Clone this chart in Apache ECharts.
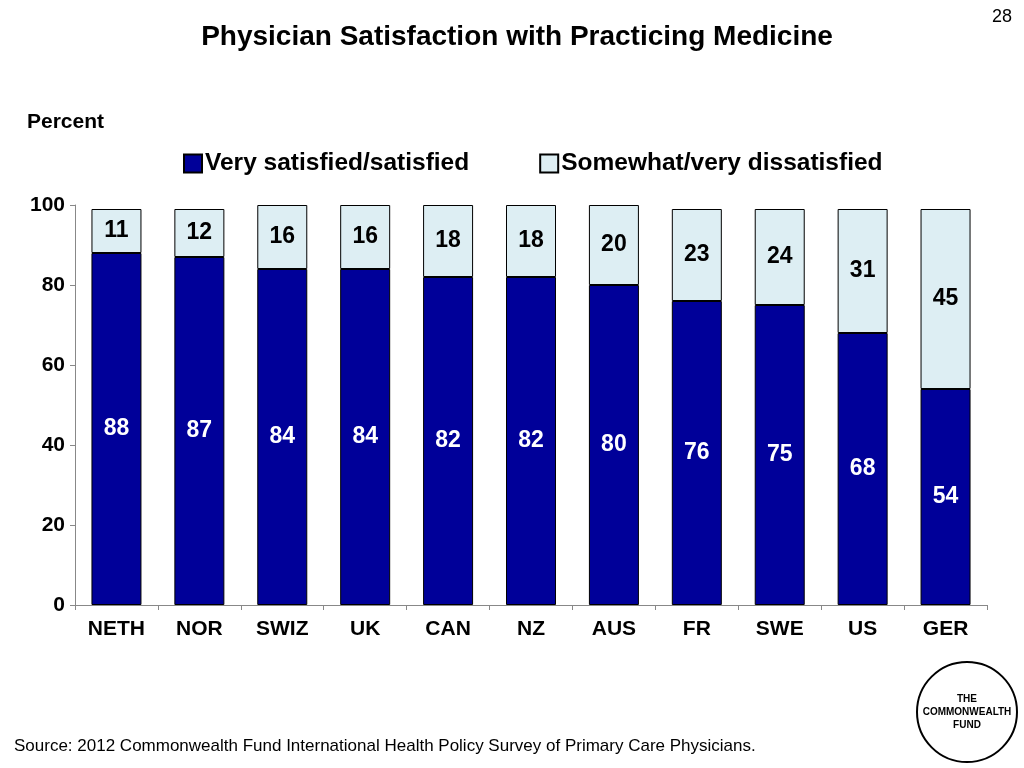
<!DOCTYPE html>
<html><head><meta charset="utf-8">
<script src="https://cdn.jsdelivr.net/npm/echarts@6/dist/echarts.min.js"></script>
<style>html,body{margin:0;padding:0;background:#fff}#c{width:1024px;height:768px}</style>
</head><body><div id="c"></div>
<script>
const categories=['NETH','NOR','SWIZ','UK','CAN','NZ','AUS','FR','SWE','US','GER'];
const satisfied=[88,87,84,84,82,82,80,76,75,68,54];
const dissatisfied=[11,12,16,16,18,18,20,23,24,31,45];
const yTicks=[0,20,40,60,80,100];
const F='Liberation Sans, Arial, sans-serif';
const chart=echarts.init(document.getElementById('c'));
chart.setOption({
  animation:false,
  title:{text:'Physician Satisfaction with Practicing Medicine',left:512,textAlign:'center',top:18,textStyle:{fontFamily:F,fontSize:28,fontWeight:'bold',color:'#000'}},
  legend:{top:146,left:178,itemGap:70,itemWidth:18,itemHeight:18,icon:'rect',textStyle:{fontFamily:F,fontSize:24.5,fontWeight:'bold',color:'#000',padding:[0,0,0,-2]},
    data:['Very satisfied/satisfied','Somewhat/very dissatisfied']},
  grid:{left:75,right:37,top:205,bottom:163},
  xAxis:{type:'category',data:categories,axisTick:{show:true,lineStyle:{color:'#888'}},axisLine:{lineStyle:{color:'#888'}},
    axisLabel:{fontFamily:F,fontSize:21,fontWeight:'bold',color:'#000',margin:14}},
  yAxis:{type:'value',min:0,max:100,interval:20,splitLine:{show:false},axisLine:{show:true,lineStyle:{color:'#888'}},axisTick:{show:true,lineStyle:{color:'#888'}},
    axisLabel:{fontFamily:F,fontSize:21,fontWeight:'bold',color:'#000',margin:10,formatter:v=>yTicks.includes(v)?String(v):''}},
  series:[
    {name:'Very satisfied/satisfied',type:'bar',stack:'a',data:satisfied,barWidth:50,
     itemStyle:{color:'#000099',borderColor:'#000',borderWidth:1},
     label:{show:true,position:'inside',fontFamily:F,fontSize:23,fontWeight:'bold',color:'#fff'}},
    {name:'Somewhat/very dissatisfied',type:'bar',stack:'a',data:dissatisfied,barWidth:50,
     itemStyle:{color:'#DDEEF3',borderColor:'#000',borderWidth:1},
     label:{show:true,position:'inside',fontFamily:F,fontSize:23,fontWeight:'bold',color:'#000'}}
  ],
  graphic:[
    {type:'text',left:27,top:112,style:{text:'Percent',fontFamily:F,fontSize:21,fontWeight:'bold',fill:'#000'}},
    {type:'text',right:12,top:8,style:{text:'28',fontFamily:F,fontSize:18,fill:'#000'}},
    {type:'text',left:14,top:738,style:{text:'Source: 2012 Commonwealth Fund International Health Policy Survey of Primary Care Physicians.',fontFamily:F,fontSize:17,fill:'#000'}},
    {type:'circle',shape:{cx:967,cy:712,r:50},style:{fill:'#fff',stroke:'#000',lineWidth:2}},
    {type:'text',x:967,y:712,style:{text:'THE\nCOMMONWEALTH\nFUND',align:'center',verticalAlign:'middle',fontFamily:F,fontSize:10,fontWeight:'bold',lineHeight:13,fill:'#000'}}
  ]
});
</script></body></html>
